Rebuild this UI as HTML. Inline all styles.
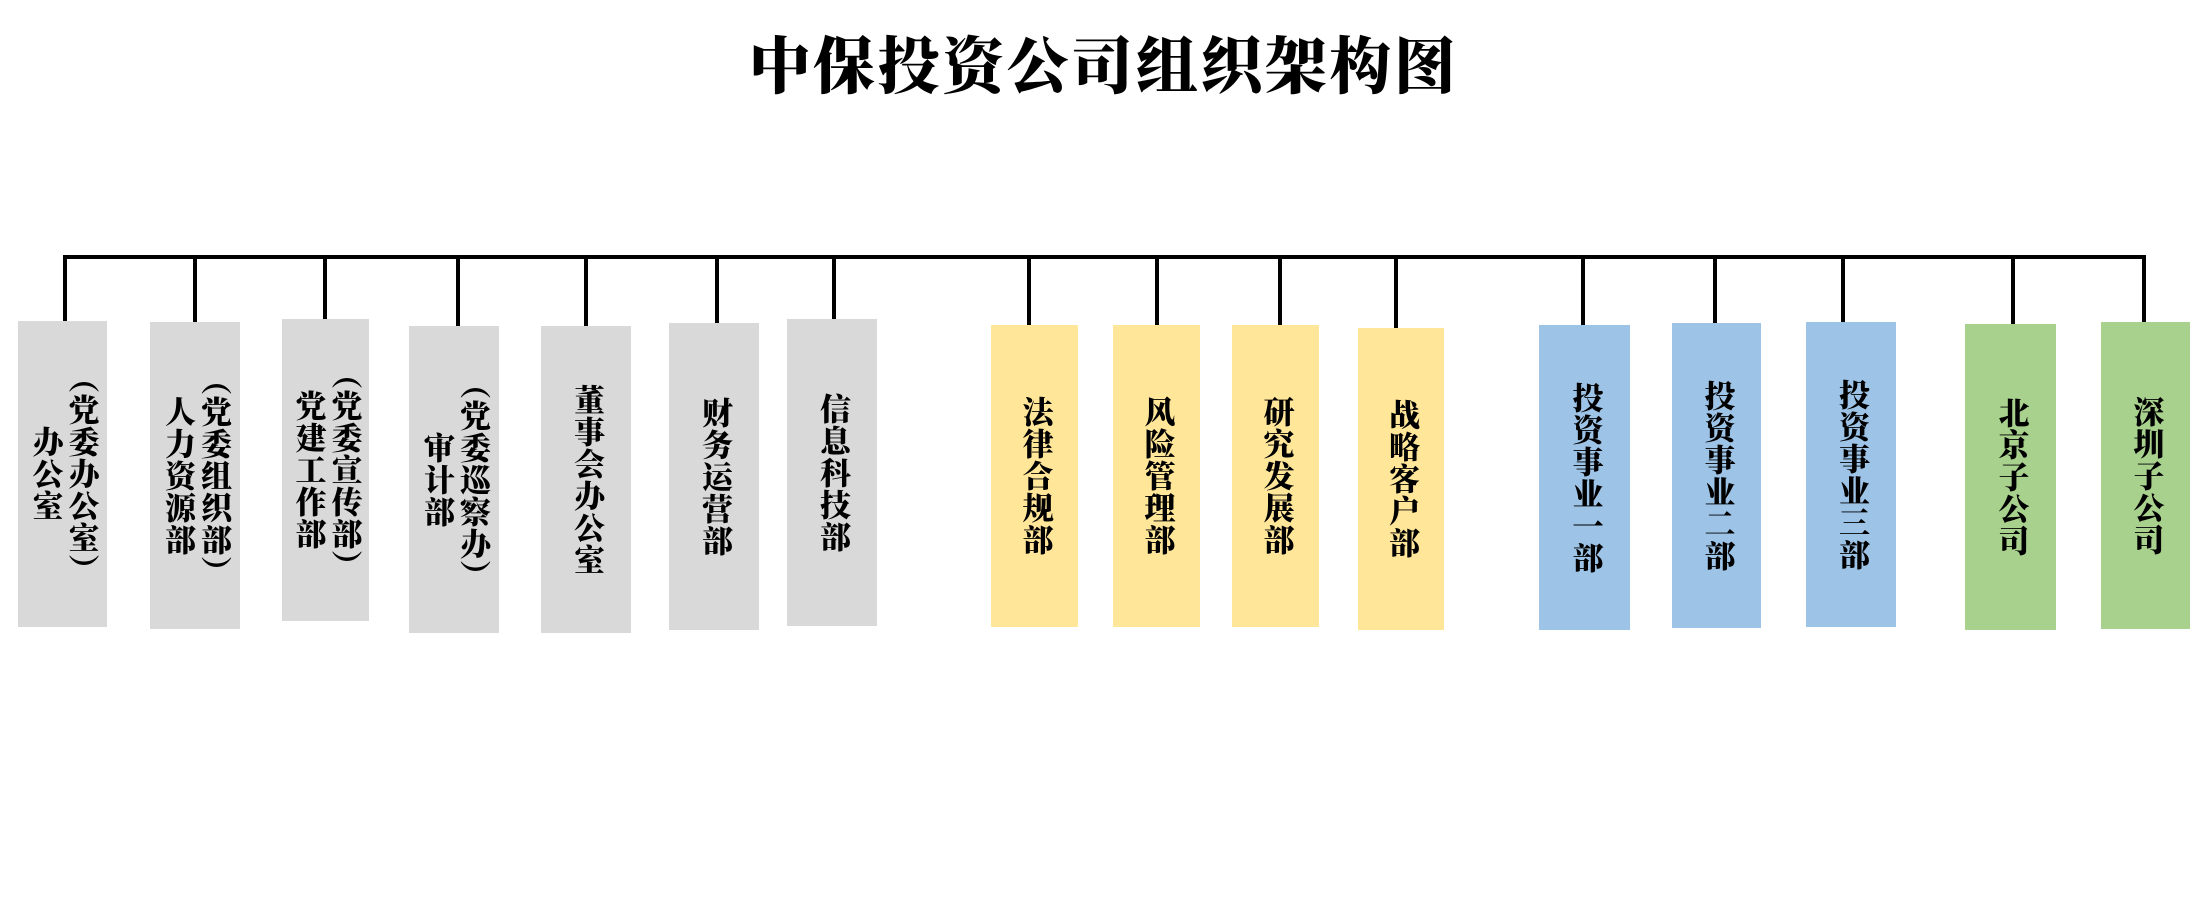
<!DOCTYPE html>
<html><head><meta charset="utf-8"><style>
body{margin:0;width:2207px;height:901px;background:#fff;position:relative;overflow:hidden;font-family:"Liberation Serif","Noto Serif CJK SC",serif;}
.t{position:absolute;left:0;width:2207px;top:26px;text-align:center;font-size:62px;font-weight:900;letter-spacing:2.5px;line-height:84px;color:#000;}
.h{position:absolute;background:#000;}
.b{position:absolute;display:flex;align-items:center;justify-content:center;}
.b div{writing-mode:vertical-rl;text-orientation:upright;font-size:31px;font-weight:900;line-height:36px;letter-spacing:1px;text-align:center;color:#000;}
.g{background:#d9d9d9}.y{background:#ffe699}.bl{background:#9dc3e6}.gr{background:#a9d18e}
</style></head><body>
<div class="t">中保投资公司组织架构图</div>
<div class="h" style="left:63px;top:255px;width:2083px;height:4px"></div>

<div class="h" style="left:63px;top:255px;width:4px;height:66px"></div>
<div class="h" style="left:193px;top:257px;width:4px;height:65px"></div>
<div class="h" style="left:323px;top:255px;width:4px;height:64px"></div>
<div class="h" style="left:456px;top:257px;width:4px;height:69px"></div>
<div class="h" style="left:584px;top:257px;width:4px;height:69px"></div>
<div class="h" style="left:715px;top:257px;width:4px;height:66px"></div>
<div class="h" style="left:832px;top:257px;width:4px;height:62px"></div>
<div class="h" style="left:1027px;top:257px;width:4px;height:68px"></div>
<div class="h" style="left:1155px;top:257px;width:4px;height:68px"></div>
<div class="h" style="left:1278px;top:257px;width:4px;height:68px"></div>
<div class="h" style="left:1394px;top:257px;width:4px;height:71px"></div>
<div class="h" style="left:1581px;top:257px;width:4px;height:68px"></div>
<div class="h" style="left:1713px;top:257px;width:4px;height:66px"></div>
<div class="h" style="left:1841px;top:257px;width:4px;height:65px"></div>
<div class="h" style="left:2011px;top:255px;width:4px;height:69px"></div>
<div class="h" style="left:2142px;top:255px;width:4px;height:67px"></div>

<div class="b g" style="left:18px;top:321px;width:89px;height:306px"><div>（党委办公室）<br>办公室</div></div>
<div class="b g" style="left:150px;top:322px;width:90px;height:307px"><div>（党委组织部）<br>人力资源部</div></div>
<div class="b g" style="left:282px;top:319px;width:87px;height:302px"><div>（党委宣传部）<br>党建工作部</div></div>
<div class="b g" style="left:409px;top:326px;width:90px;height:307px"><div>（党委巡察办）<br>审计部</div></div>
<div class="b g" style="left:541px;top:326px;width:90px;height:307px"><div>董事会办公室</div></div>
<div class="b g" style="left:669px;top:323px;width:90px;height:307px"><div>财务运营部</div></div>
<div class="b g" style="left:787px;top:319px;width:90px;height:307px"><div>信息科技部</div></div>

<div class="b y" style="left:991px;top:325px;width:87px;height:302px"><div>法律合规部</div></div>
<div class="b y" style="left:1113px;top:325px;width:87px;height:302px"><div>风险管理部</div></div>
<div class="b y" style="left:1232px;top:325px;width:87px;height:302px"><div>研究发展部</div></div>
<div class="b y" style="left:1358px;top:328px;width:86px;height:302px"><div>战略客户部</div></div>

<div class="b bl" style="left:1539px;top:325px;width:91px;height:305px"><div>投资事业一部</div></div>
<div class="b bl" style="left:1672px;top:323px;width:89px;height:305px"><div>投资事业二部</div></div>
<div class="b bl" style="left:1806px;top:322px;width:90px;height:305px"><div>投资事业三部</div></div>

<div class="b gr" style="left:1965px;top:324px;width:91px;height:306px"><div>北京子公司</div></div>
<div class="b gr" style="left:2101px;top:322px;width:89px;height:307px"><div>深圳子公司</div></div>
</body></html>
